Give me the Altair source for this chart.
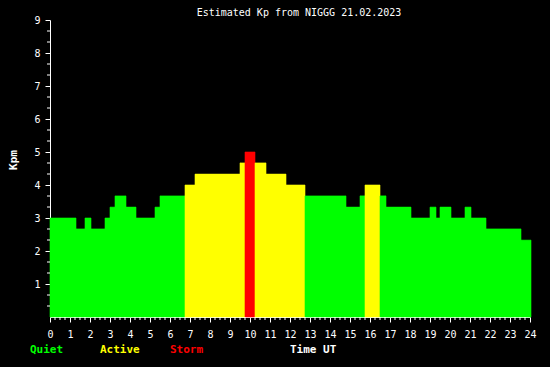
import altair as alt
import pandas as pd
import jinja2
from altair.utils.html import HTML_TEMPLATE

# Kp segments (hours UT)
seg_start = [0.0, 1.3, 1.75, 2.05, 2.75, 3.0, 3.25, 3.8, 4.3, 5.25, 5.5,
             6.75, 7.25, 9.5, 9.75, 10.25, 10.8, 11.8,
             12.75, 14.8, 15.5, 15.75, 16.5, 16.8, 18.05, 19.0, 19.3, 19.5,
             20.05, 20.75, 21.05, 21.8, 23.55]
seg_end = seg_start[1:] + [24.05]
kp_vals = [3.0, 2.67, 3.0, 2.67, 3.0, 3.33, 3.67, 3.33, 3.0, 3.33, 3.67,
           4.0, 4.33, 4.67, 5.0, 4.67, 4.33, 4.0,
           3.67, 3.33, 3.67, 4.0, 3.67, 3.33, 3.0, 3.33, 3.0, 3.33,
           3.0, 3.33, 3.0, 2.67, 2.33]
levels = ["Quiet", "Quiet", "Quiet", "Quiet", "Quiet", "Quiet", "Quiet", "Quiet", "Quiet", "Quiet", "Quiet",
          "Active", "Active", "Active", "Storm", "Active", "Active", "Active",
          "Quiet", "Quiet", "Quiet", "Active", "Quiet", "Quiet", "Quiet", "Quiet", "Quiet", "Quiet",
          "Quiet", "Quiet", "Quiet", "Quiet", "Quiet"]

x_major = list(range(0, 25))
x_minor = [h / 4 for h in range(0, 97) if h % 4 != 0]
y_major = list(range(1, 10))
y_minor = [k / 3 for k in range(1, 27) if k % 3 != 0]

legend_names = ["Quiet", "Active", "Storm"]
legend_colors = ["#00ff00", "#ffff00", "#ff0000"]

W, H = 480, 297
FONT = "DejaVu Sans Mono"

df = pd.DataFrame({"start": seg_start, "end": seg_end, "kp": kp_vals, "level": levels})

xs = alt.Scale(domain=[0, 24], nice=False, zero=False)
ys = alt.Scale(domain=[0, 9], nice=False)
cs = alt.Scale(domain=legend_names, range=legend_colors)

xaxis = alt.Axis(values=x_major, tickSize=5, tickColor="white", domainColor="white",
                 labelColor="white", labelFont=FONT, labelFontSize=10, labelPadding=7,
                 grid=False, title=None, labelFlush=False, labelOverlap=False)
yaxis = alt.Axis(values=y_major, tickSize=5, tickColor="white", domainColor="white",
                 labelColor="white", labelFont=FONT, labelFontSize=10, labelPadding=5,
                 grid=False, title=None, labelOverlap=False)

bars = alt.Chart(df).mark_rect(strokeWidth=0.6).encode(
    x=alt.X("start:Q", scale=xs, axis=xaxis),
    x2="end:Q",
    y=alt.Y("kp:Q", scale=ys, axis=yaxis),
    y2=alt.datum(0),
    color=alt.Color("level:N", scale=cs, legend=None),
    stroke=alt.Stroke("level:N", scale=cs, legend=None),
)

xminor = alt.Chart(pd.DataFrame({"t": x_minor})).mark_rule(color="white", strokeWidth=1).encode(
    x=alt.X("t:Q", scale=xs, axis=xaxis), y=alt.value(H), y2=alt.value(H + 3))
yminor = alt.Chart(pd.DataFrame({"v": y_minor})).mark_rule(color="white", strokeWidth=1).encode(
    y=alt.Y("v:Q", scale=ys, axis=yaxis), x=alt.value(-3), x2=alt.value(0))

leg_df = pd.DataFrame({"name": legend_names, "px": [-20, 50, 120]})
legend = alt.Chart(leg_df).mark_text(font=FONT, fontSize=11, fontWeight="bold", align="left", baseline="alphabetic").encode(
    text="name:N", x=alt.X("px:Q", scale=None), y=alt.value(H + 36),
    color=alt.Color("name:N", scale=cs, legend=None))

timeut = alt.Chart(pd.DataFrame({"t": ["Time UT"]})).mark_text(
    font=FONT, fontSize=11, fontWeight="bold", color="white", align="left", baseline="alphabetic"
).encode(text="t:N", x=alt.value(240), y=alt.value(H + 36))

kpm = alt.Chart(pd.DataFrame({"t": ["Kpm"]})).mark_text(
    font=FONT, fontSize=11, fontWeight="bold", color="white", align="center", baseline="middle", angle=270
).encode(text="t:N", x=alt.value(-36), y=alt.value(140))

title = alt.Chart(pd.DataFrame({"t": ["Estimated Kp from NIGGG 21.02.2023"]})).mark_text(
    font=FONT, fontSize=10, color="white", align="center", baseline="alphabetic"
).encode(text="t:N", x=alt.value(249), y=alt.value(-4))

chart = alt.layer(bars, xminor, yminor, legend, timeut, kpm, title).properties(
    width=W, height=H, autosize="none",
    padding={"left": 42, "top": 12, "right": 12, "bottom": 42},
).configure(background="black").configure_view(strokeWidth=0)

# standard page template, with a black page background
page = jinja2.Template("{% include base %}\n<style>html, body { background: #000; }</style>\n")
page.globals["base"] = HTML_TEMPLATE

chart.save("out.html", embed_options={"renderer": "svg", "actions": False}, template=page)
